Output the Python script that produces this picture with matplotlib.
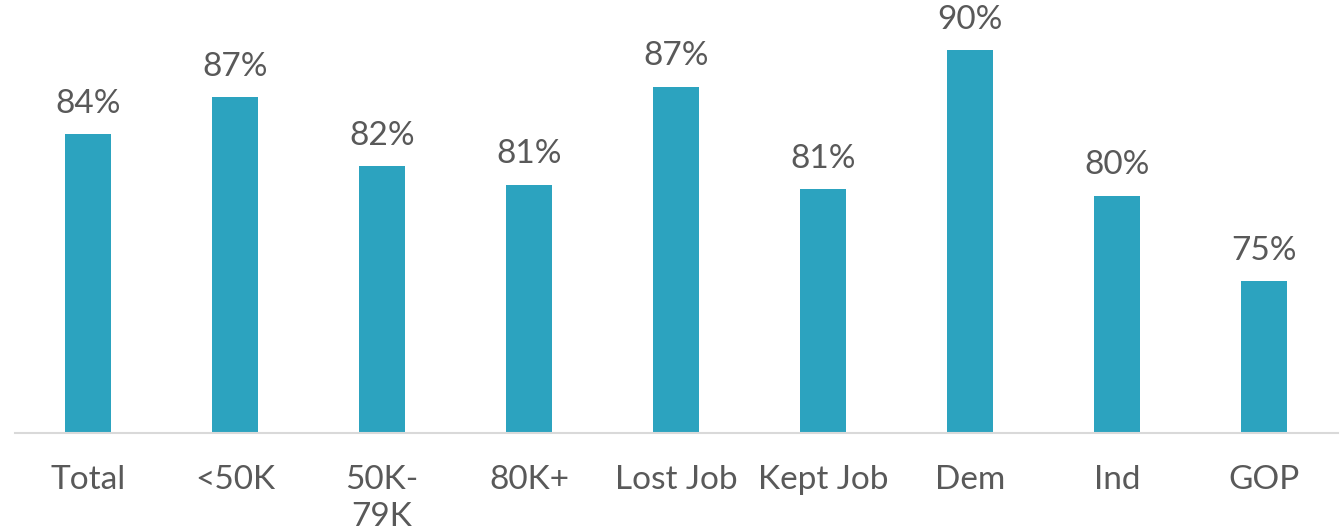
import matplotlib
matplotlib.use('Agg')
import matplotlib.pyplot as plt

categories = ['Total', '<50K', '50K-\n79K', '80K+', 'Lost Job', 'Kept Job', 'Dem', 'Ind', 'GOP']
values = [84.5, 86.9, 82.4, 81.2, 87.6, 80.9, 90.0, 80.5, 74.9]
labels = ['84%', '87%', '82%', '81%', '87%', '81%', '90%', '80%', '75%']

bar_color = '#2CA3BF'
text_color = '#595959'
plt.rcParams['font.family'] = ['Lato', 'DejaVu Sans']

fig = plt.figure(figsize=(13.42, 5.31), dpi=100)
ax = fig.add_axes([14.5 / 1342, 98 / 531, 1323 / 1342, 433 / 531])

x = list(range(len(categories)))
ax.bar(x, [v - 65 for v in values], bottom=65, width=0.313, color=bar_color)
for xi, v, lab in zip(x, values, labels):
    ax.text(xi, v + 1.0, lab, ha='center', va='bottom', fontsize=24, color=text_color)

ax.set_xlim(-0.5, len(categories) - 0.5)
ax.set_ylim(65, 65 + 433 / 15.32)
ax.set_xticks(x)
ax.set_xticklabels(categories, fontsize=24, color=text_color, linespacing=1.3)
ax.tick_params(axis='x', length=0, pad=23)
ax.set_yticks([])
for s in ['top', 'right', 'left']:
    ax.spines[s].set_visible(False)
ax.spines['bottom'].set_color('#d9d9d9')
ax.spines['bottom'].set_linewidth(1.5)

fig.savefig('out.png', dpi=100)
